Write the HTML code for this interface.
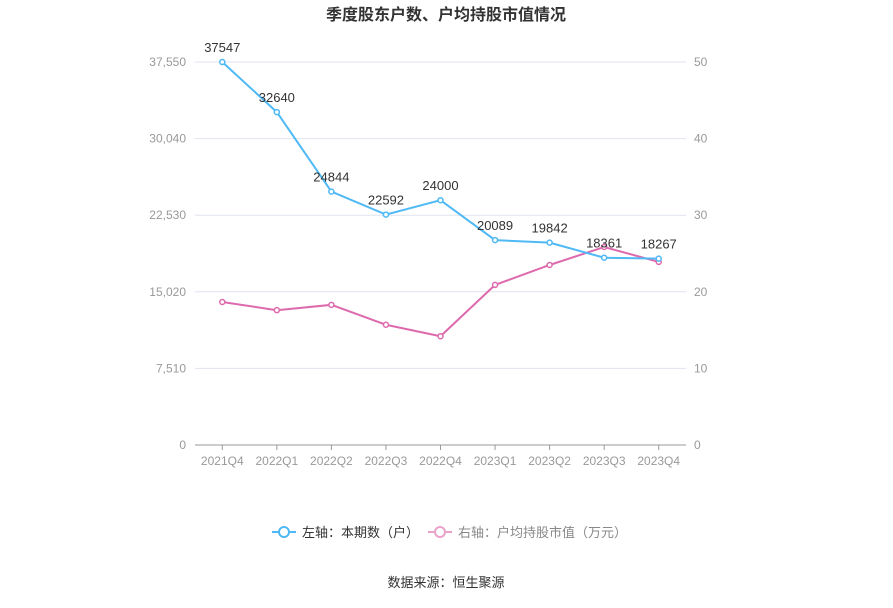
<!DOCTYPE html>
<html><head><meta charset="utf-8"><style>
body{margin:0;background:#fff;font-family:"Liberation Sans","Noto Sans CJK SC",sans-serif;}
svg text{font-family:"Liberation Sans","Noto Sans CJK SC",sans-serif;}
</style></head><body>
<svg id="chart" width="893" height="603">
<text x="446" y="20" text-anchor="middle" font-size="16" font-weight="bold" fill="#333">季度股东户数、户均持股市值情况</text>
<g id="grid"></g><g id="axes"></g><g id="series"></g>
<g>
<g>
<line x1="272" y1="532" x2="296" y2="532" stroke="#4fb9f5" stroke-width="2"/><circle cx="284" cy="532" r="5" fill="#fff" stroke="#4fb9f5" stroke-width="2"/>
<text x="302" y="537" font-size="13" fill="#333">左轴：本期数（户）</text></g>
<g>
<line x1="428" y1="532" x2="452" y2="532" stroke="#eaa3c8" stroke-width="2"/><circle cx="440" cy="532" r="5" fill="#fff" stroke="#eaa3c8" stroke-width="2"/>
<text x="458" y="537" font-size="13" fill="#888">右轴：户均持股市值（万元）</text></g>
</g>
<text x="446" y="587" text-anchor="middle" font-size="13" fill="#333">数据来源：恒生聚源</text>
</svg>
<script>
const categories=["2021Q4","2022Q1","2022Q2","2022Q3","2022Q4","2023Q1","2023Q2","2023Q3","2023Q4"];
const holders=[37547,32640,24844,22592,24000,20089,19842,18361,18267];
const avgValue=[18.67,17.6,18.3,15.7,14.2,20.9,23.5,25.85,23.9];
const leftTicks=[0,7510,15020,22530,30040,37550];
const rightTicks=[0,10,20,30,40,50];
const NS="http://www.w3.org/2000/svg";
const x0=195,x1=686,yTop=62,yBot=445;
const step=(x1-x0)/categories.length;
const xs=i=>x0+step*(i+0.5);
const yL=v=>yBot-(v/37550)*(yBot-yTop);
const yR=v=>yBot-(v/50)*(yBot-yTop);
function mk(tag,attrs,parent){const e=document.createElementNS(NS,tag);for(const k in attrs)e.setAttribute(k,attrs[k]);parent.appendChild(e);return e;}
const grid=document.getElementById('grid'),axes=document.getElementById('axes'),ser=document.getElementById('series');
leftTicks.forEach((t,i)=>{
 const y=yL(t);
 if(i>0){const l=mk('line',{x1:x0,x2:x1,y1:y,y2:y,stroke:'#e0e3ef','stroke-width':1},grid);
 
 }
 const tx=mk('text',{x:186,y:y+4,'text-anchor':'end','font-size':12,fill:'#999'},axes);tx.textContent=t.toLocaleString('en-US');
 
 
});
rightTicks.forEach(t=>{
 const tx=mk('text',{x:694,y:yR(t)+4,'font-size':12,fill:'#999'},axes);tx.textContent=t;
 
 
});
const ax=mk('line',{x1:x0,x2:x1,y1:yBot,y2:yBot,stroke:'#999'},axes);


categories.forEach((c,i)=>{
 mk('line',{x1:xs(i),x2:xs(i),y1:yBot,y2:yBot+5,stroke:'#999'},axes);
 const tx=mk('text',{x:xs(i),y:465,'text-anchor':'middle','font-size':12,fill:'#999'},axes);tx.textContent=c;
 
 
});
function series(vals,yf,color,name,labels){
 const p=mk('polyline',{points:vals.map((v,i)=>xs(i)+','+yf(v)).join(' '),fill:'none',stroke:color,'stroke-width':2},ser);
 
 
 vals.forEach((v,i)=>{
  const c=mk('circle',{cx:xs(i),cy:yf(v),r:2.5,fill:'#fff',stroke:color,'stroke-width':1.5},ser);
  
  
  if(labels){const t=mk('text',{x:xs(i),y:yf(v)-10,'text-anchor':'middle','font-size':13,fill:'#333'},ser);t.textContent=v;
  
  }
 });
}
series(avgValue,yR,'#dd6aad','avg-value',false);
series(holders,yL,'#4fb9f5','holders',true);
</script>
</body></html>
